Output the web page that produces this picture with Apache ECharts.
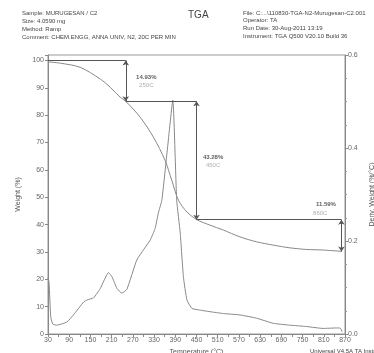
<!DOCTYPE html>
<html>
<head>
<meta charset="utf-8">
<script src="https://cdn.jsdelivr.net/npm/echarts@6/dist/echarts.min.js"></script>
<style>
  html, body { margin: 0; padding: 0; background: #fff; }
  #chart { width: 374px; height: 353px; }
</style>
</head>
<body>
<div id="chart"></div>
<script>
// TGA 曲线数据（温度 / 失重%）
var weightTemp = [30, 65, 121, 178, 206, 234, 250, 291, 328, 361, 380, 399, 423, 451, 488, 526, 573, 620, 667, 714, 762, 808, 862];
var weightPct  = [99.5, 99, 97.5, 93.2, 90.2, 86.6, 85.07, 79.2, 72, 63.5, 56.2, 48.9, 44.6, 41.8, 39.8, 38, 35.5, 33.7, 32.5, 31.5, 30.9, 30.7, 30.2];

// DTG 曲线数据（温度 / %/°C）
var dtgTemp = [30, 33, 38, 44, 55, 84, 102, 131, 140, 159, 178, 201, 211, 225, 239, 253, 281, 300, 319, 333, 342, 352, 368, 383, 394, 404, 413, 423, 437, 455, 488, 526, 573, 620, 667, 714, 762, 808, 846, 856, 862];
var dtgVal  = [0.122, 0.11, 0.035, 0.021, 0.019, 0.026, 0.041, 0.069, 0.073, 0.078, 0.098, 0.132, 0.123, 0.098, 0.088, 0.096, 0.159, 0.181, 0.202, 0.227, 0.26, 0.288, 0.40, 0.503, 0.288, 0.217, 0.123, 0.073, 0.055, 0.052, 0.048, 0.044, 0.041, 0.034, 0.023, 0.019, 0.016, 0.012, 0.013, 0.013, 0.005];

// 失重台阶标注
var stepTemp   = [30, 250, 450, 860];
var stepWeight = [100, 85.07, 41.79, 30.2];
var stepLoss   = ['14.93%', '43.28%', '11.59%'];
var stepName   = ['250C', '450C', '860C'];
var lossLabelPos = [[308, 93.8], [497, 64.6], [816, 47.4]];
var tempLabelPos = [[308, 90.9], [497, 61.7], [800, 44.2]];

var headerLeft = ['Sample: MURUGESAN / C2', 'Size: 4.0590 mg', 'Method: Ramp', 'Comment: CHEM.ENGG, ANNA UNIV, N2, 20C PER MIN'];
var headerRight = ['File: C:...\\110830-TGA-N2-Murugesan-C2.001', 'Operator: TA', 'Run Date: 30-Aug-2011 13:19', 'Instrument: TGA Q500 V20.10 Build 36'];

var chart = echarts.init(document.getElementById('chart'));

var weightData = weightTemp.map(function (t, i) { return [t, weightPct[i]]; });
var dtgData = dtgTemp.map(function (t, i) { return [t, dtgVal[i]]; });

// 标注线：水平线 + 竖直双箭头
var lines = [];
for (var i = 0; i < stepLoss.length; i++) {
  lines.push([{ coord: [stepTemp[i], stepWeight[i]], symbol: 'none' }, { coord: [stepTemp[i + 1], stepWeight[i]], symbol: 'none' }]);
  lines.push([{ coord: [stepTemp[i + 1], stepWeight[i]], symbol: 'arrow' }, { coord: [stepTemp[i + 1], stepWeight[i + 1]], symbol: 'arrow' }]);
}

var labelData = [];
for (var j = 0; j < stepLoss.length; j++) {
  labelData.push({ value: lossLabelPos[j], label: { formatter: stepLoss[j], color: '#333', fontWeight: 'bold' } });
  labelData.push({ value: tempLabelPos[j], label: { formatter: stepName[j], color: '#999' } });
}

var font = 'Liberation Sans';
var graphics = [];
headerLeft.forEach(function (s, k) {
  graphics.push({ type: 'text', left: 22, top: 10 + k * 8, style: { text: s, font: '6px ' + font, fill: '#444' } });
});
headerRight.forEach(function (s, k) {
  graphics.push({ type: 'text', left: 243, top: 10 + k * 7.8, style: { text: s, font: '6px ' + font, fill: '#444' } });
});
graphics.push({ type: 'text', left: 188, top: 10, style: { text: 'TGA', font: '10px ' + font, fill: '#444' } });
graphics.push({ type: 'text', left: 310, top: 348, style: { text: 'Universal V4.5A TA Instruments', font: '6px ' + font, fill: '#444' } });

var option = {
  animation: false,
  textStyle: { fontFamily: font },
  graphic: graphics,
  grid: { left: 48, right: 29, top: 55, bottom: 19, outerBoundsMode: 'none', containLabel: false, show: true, borderColor: '#999', borderWidth: 1 },
  xAxis: {
    type: 'value', min: 30, max: 870, interval: 30,
    name: 'Temperature (°C)', nameLocation: 'middle', nameGap: 15,
    nameTextStyle: { fontSize: 7, color: '#555' },
    axisLine: { lineStyle: { color: '#888' } },
    axisTick: { length: 3, lineStyle: { color: '#888' } },
    axisLabel: {
      fontSize: 7, color: '#666', margin: 3,
      formatter: function (v) { return (v - 30) % 60 === 0 ? String(v) : ''; }
    },
    splitLine: { show: false }
  },
  yAxis: [{
    type: 'value', min: 0, max: 102, interval: 10,
    name: 'Weight (%)', nameLocation: 'middle', nameGap: 24, nameRotate: 90,
    nameTextStyle: { fontSize: 7, color: '#555' },
    axisLine: { show: true, lineStyle: { color: '#888' } },
    axisTick: { show: true, length: 3, lineStyle: { color: '#888' } },
    axisLabel: {
      fontSize: 7, color: '#666', margin: 4,
      formatter: function (v) { return v % 10 === 0 && v <= 100 ? String(v) : ''; }
    },
    splitLine: { show: false }
  }, {
    type: 'value', min: 0, max: 0.6, interval: 0.2, position: 'right',
    name: 'Deriv. Weight (%/°C)', nameLocation: 'middle', nameGap: 22, nameRotate: 90,
    nameTextStyle: { fontSize: 7, color: '#555' },
    axisLine: { show: true, lineStyle: { color: '#888' } },
    axisTick: { show: true, length: 3, lineStyle: { color: '#888' } },
    minorTick: { show: true, splitNumber: 4, length: 2, lineStyle: { color: '#999' } },
    axisLabel: { fontSize: 7, color: '#666', margin: 3, formatter: function (v) { return v.toFixed(1); } },
    splitLine: { show: false }
  }],
  series: [{
    name: 'Weight',
    type: 'line',
    yAxisIndex: 0,
    data: weightData,
    smooth: 0.3,
    showSymbol: false,
    lineStyle: { color: '#888', width: 1 },
    markLine: {
      silent: true,
      symbolSize: 5,
      label: { show: false },
      lineStyle: { color: '#555', width: 1, type: 'solid' },
      data: lines
    }
  }, {
    name: 'Deriv. Weight',
    type: 'line',
    yAxisIndex: 1,
    data: dtgData,
    smooth: 0.15,
    showSymbol: false,
    lineStyle: { color: '#888', width: 1 }
  }, {
    name: 'labels',
    type: 'scatter',
    yAxisIndex: 0,
    symbolSize: 0,
    data: labelData,
    label: { show: true, position: 'inside', fontSize: 6 }
  }]
};

chart.setOption(option);
</script>
</body>
</html>
